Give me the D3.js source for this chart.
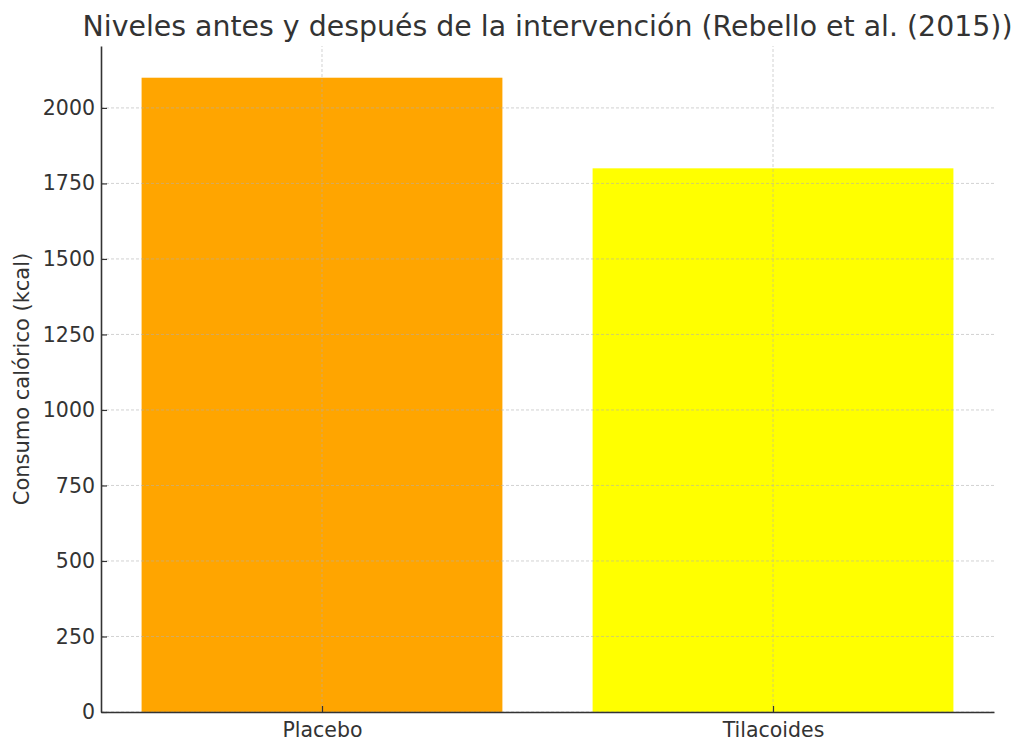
<!DOCTYPE html>
<html>
<head>
<meta charset="utf-8">
<script src="https://cdn.jsdelivr.net/npm/d3@7"></script>
<style>
  body { margin: 0; background: #fff; }
  svg { font-family: "DejaVu Sans", sans-serif; }
</style>
</head>
<body>
<svg width="1024" height="752"></svg>
<script>
// Data
const categories = ['Placebo', 'Tilacoides'];
const values = [2100, 1800];
const barColors = ['orange', 'yellow'];
const yTicks = [0, 250, 500, 750, 1000, 1250, 1500, 1750, 2000];

const margin = {top: 46, right: 30, bottom: 40, left: 101};
const width = 1024, height = 752;
const svg = d3.select('svg');

// matplotlib-like linear x scale: bars at 0,1 with width 0.8
const x = d3.scaleLinear()
    .domain([-0.49, 1.49])
    .range([margin.left, width - margin.right]);

const y = d3.scaleLinear()
    .domain([0, d3.max(values) * 1.05])
    .range([height - margin.bottom, margin.top]);

const textColor = '#333333';

// bars
svg.selectAll('.bar')
    .data(categories)
    .enter().append('rect')
    .attr('class', 'bar')
    .attr('x', (d, i) => x(i - 0.4))
    .attr('width', (d, i) => x(i + 0.4) - x(i - 0.4))
    .attr('y', (d, i) => y(values[i]))
    .attr('height', (d, i) => y(0) - y(values[i]))
    .attr('fill', (d, i) => barColors[i]);

// grid on top of bars
const grid = svg.append('g').attr('stroke', '#b0b0b0').attr('stroke-width', 0.8)
    .attr('stroke-dasharray', '3,2').attr('opacity', 0.7);
grid.selectAll('.hg').data(yTicks).enter().append('line')
    .attr('x1', x.range()[0]).attr('x2', x.range()[1])
    .attr('y1', d => y(d)).attr('y2', d => y(d));
grid.selectAll('.vg').data(categories).enter().append('line')
    .attr('x1', (d, i) => x(i)).attr('x2', (d, i) => x(i))
    .attr('y1', y.range()[0]).attr('y2', y.range()[1]);

// axes (ticks pointing inward)
const yAxis = svg.append('g')
    .attr('transform', `translate(${margin.left},0)`)
    .call(d3.axisLeft(y).tickValues(yTicks).tickFormat(d3.format('d'))
        .tickSize(-6).tickPadding(6).tickSizeOuter(0));
const xAxis = svg.append('g')
    .attr('transform', `translate(0,${height - margin.bottom})`)
    .call(d3.axisBottom(x).tickValues([0, 1]).tickFormat((d) => categories[d])
        .tickSize(-6).tickPadding(6).tickSizeOuter(0));

[yAxis, xAxis].forEach(g => {
    g.select('.domain').attr('stroke', textColor).attr('stroke-width', 1.6);
    g.selectAll('.tick line').attr('stroke', textColor).attr('stroke-width', 1.2);
    g.selectAll('.tick text').attr('fill', textColor)
        .style('font-size', '20.5px').style('font-family', '"DejaVu Sans", sans-serif');
});
xAxis.selectAll('.tick text').attr('dy', '0.95em');

// title
svg.append('text')
    .attr('x', (x.range()[0] + x.range()[1]) / 2 + 0)
    .attr('y', 36)
    .attr('text-anchor', 'middle')
    .attr('fill', textColor)
    .style('font-size', '28.4px')
    .text('Niveles antes y después de la intervención (Rebello et al. (2015))');

// y label
svg.append('text')
    .attr('transform', `translate(29,${(y.range()[0] + y.range()[1]) / 2}) rotate(-90)`)
    .attr('text-anchor', 'middle')
    .attr('fill', textColor)
    .style('font-size', '21px')
    .text('Consumo calórico (kcal)');
</script>
</body>
</html>
